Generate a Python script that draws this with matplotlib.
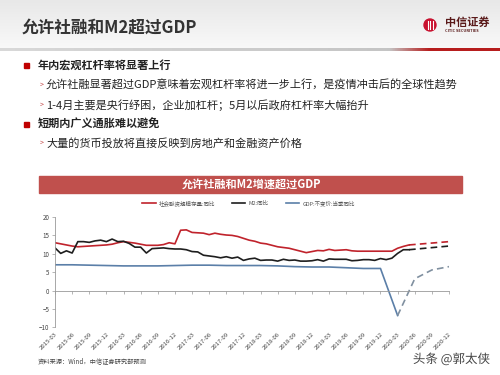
import numpy as np
import pandas as pd
import matplotlib
matplotlib.use('Agg')
import matplotlib.pyplot as plt
from matplotlib.patches import Rectangle, Circle
from matplotlib import patheffects as pe

plt.rcParams['font.family'] = ['Noto Sans CJK SC', 'DejaVu Sans']

# 月度横轴 2015-03 ~ 2020-12
months = [str(p) for p in pd.period_range('2015-03', '2020-12', freq='M')]
tick_labels = months[::3]

# 社会融资规模存量:同比 (2015-03 ~ 2020-05)
tsf_yoy = [13.0, 12.7, 12.4, 12.1, 11.9, 12.0, 12.1, 12.2, 12.3, 12.4,
           12.6, 13.0, 13.3, 13.1, 12.9, 12.6, 12.3, 12.3, 12.3, 12.5,
           13.0, 12.7, 16.4, 16.5, 15.8, 15.7, 15.6, 15.2, 15.6, 15.3,
           15.1, 15.0, 14.7, 14.2, 13.7, 13.4, 12.9, 12.7, 12.3, 11.9,
           11.7, 11.5, 11.1, 10.7, 10.3, 10.6, 10.9, 10.8, 11.2, 10.9,
           11.0, 11.1, 10.8, 10.7, 10.7, 10.7, 10.7, 10.7, 10.7, 10.7,
           11.5, 12.0, 12.4]
# M2:同比 (2015-03 ~ 2020-05)
m2_yoy = [11.6, 10.1, 10.8, 10.2, 13.3, 13.3, 13.1, 13.5, 13.7, 13.3,
          14.0, 13.3, 13.4, 12.8, 11.8, 11.8, 10.2, 11.4, 11.5, 11.6,
          11.4, 11.3, 11.3, 11.1, 10.6, 10.5, 9.6, 9.4, 9.2, 8.9,
          9.2, 8.8, 9.1, 8.2, 8.6, 8.8, 8.2, 8.3, 8.3, 8.0,
          8.5, 8.2, 8.3, 8.0, 8.0, 8.1, 8.4, 8.0, 8.6, 8.5,
          8.5, 8.5, 8.1, 8.2, 8.4, 8.4, 8.2, 8.7, 8.4, 8.8,
          10.1, 11.1, 11.1]
# 预测 (2020-05 ~ 2020-12)
fc_months = ['2020-05', '2020-12']
tsf_fc = [12.4, 13.3]
m2_fc = [11.1, 12.1]

# GDP:不变价:当季同比
gdp_q = ['2015-03', '2015-06', '2015-09', '2015-12', '2016-03', '2016-06',
         '2016-09', '2016-12', '2017-03', '2017-06', '2017-09', '2017-12',
         '2018-03', '2018-06', '2018-09', '2018-12', '2019-03', '2019-06',
         '2019-09', '2019-12', '2020-03']
gdp_yoy = [7.0, 7.0, 6.9, 6.8, 6.7, 6.7, 6.7, 6.8, 6.9, 6.9, 6.8, 6.8,
           6.8, 6.7, 6.5, 6.4, 6.4, 6.2, 6.0, 6.0, -6.8]
gdp_fc_q = ['2020-03', '2020-06', '2020-09', '2020-12']
gdp_fc = [-6.8, 3.2, 5.6, 6.5]

pos = {m: i for i, m in enumerate(months)}
x_hist = np.arange(len(tsf_yoy))
x_fc = [pos[m] for m in fc_months]
x_gdp = [pos[m] for m in gdp_q]
x_gdp_fc = [pos[m] for m in gdp_fc_q]

RED = '#c0232c'
BLACK = '#1e1e1e'
BLUE = '#5b7fa8'
GRAYB = '#8090a0'

fig = plt.figure(figsize=(5, 3.75), dpi=100)

# 背景 / 版式
bg = fig.add_axes([0, 0, 1, 1])
bg.set_xlim(0, 500)
bg.set_ylim(375, 0)
bg.axis('off')
grad = np.linspace(0.91, 0.975, 50)[:, None] * np.ones((50, 10))
bg.imshow(np.dstack([grad] * 3), extent=(0, 500, 48, 0), aspect='auto', zorder=0)
t = np.linspace(0, 1, 300)
edge = np.clip((t - 0.78) / 0.08, 0, 1)
rr = (0.85 - 0.1 * t) * (1 - edge) + 0.72 * edge
gg = (0.85 - 0.1 * t) * (1 - edge) + 0.12 * edge
bb = (0.85 - 0.1 * t) * (1 - edge) + 0.12 * edge
bg.imshow(np.dstack([rr, gg, bb]), extent=(0, 500, 51, 48),
          aspect='auto', zorder=1)

bg.text(22, 28, '允许社融和M2超过GDP', fontsize=12, fontweight='bold',
        color='#333333', va='center', ha='left')

# logo
bg.add_patch(Circle((430, 25), 6, color='#c8102e', zorder=2))
for dx in (-2.5, 0, 2.5):
    bg.plot([430 + dx, 430 + dx], [21, 29], color='white', lw=0.8, zorder=3)
bg.text(445, 22, '中信证券', fontsize=8, fontweight='bold', color='#5a1a1a',
        va='center', ha='left')
bg.text(445, 30.5, 'CITIC SECURITIES', fontsize=2.8, fontweight='bold',
        color='#5a1a1a', va='center', ha='left')

# 要点
bullets = [(65, '年内宏观杠杆率将显著上行', True),
           (85, '允许社融显著超过GDP意味着宏观杠杆率将进一步上行，是疫情冲击后的全球性趋势', False),
           (105, '1-4月主要是央行纾困，企业加杠杆；5月以后政府杠杆率大幅抬升', False),
           (124, '短期内广义通胀难以避免', True),
           (143, '大量的货币投放将直接反映到房地产和金融资产价格', False)]
for y, txt, main in bullets:
    if main:
        bg.add_patch(Rectangle((23.5, y - 2.5), 5, 5, color='#c00000'))
        bg.text(38, y, txt, fontsize=8, fontweight='bold', color='#222222',
                va='center', ha='left')
    else:
        bg.text(40, y + 0.5, '>', fontsize=5, color='#c04040', va='center', ha='left')
        bg.text(46, y, txt, fontsize=8, color='#222222', va='center', ha='left')

# 图表标题栏
bg.add_patch(Rectangle((39, 176), 423, 17, color='#c0504d', zorder=2))
bg.text(251, 184.5, '允许社融和M2增速超过GDP', fontsize=8, fontweight='bold',
        color='white', va='center', ha='center', zorder=3)

bg.text(38, 361, '资料来源：Wind，中信证券研究部预测', fontsize=4.5,
        color='#444444', va='center', ha='left')
bg.text(490, 359, '头条 @郭太侠', fontsize=9, color='#444444', va='center',
        ha='right', path_effects=[pe.withStroke(linewidth=2, foreground='white')])

# 图表
ax = fig.add_axes([55 / 500, 1 - 327.3 / 375, 394 / 500, 110.3 / 375])
ax.patch.set_alpha(0)
ax.plot(x_hist, tsf_yoy, color=RED, lw=1.2, label='社会融资规模存量:同比')
ax.plot(x_hist, m2_yoy, color=BLACK, lw=1.2, label='M2:同比')
ax.plot(x_gdp, gdp_yoy, color=BLUE, lw=1.2, label='GDP:不变价:当季同比')
ax.plot(x_fc, tsf_fc, color=RED, lw=1.2, ls=(0, (4, 2.5)))
ax.plot(x_fc, m2_fc, color=BLACK, lw=1.2, ls=(0, (4, 2.5)))
ax.plot(x_gdp_fc, gdp_fc, color=GRAYB, lw=1.2, ls=(0, (4, 2.5)))

ax.set_xlim(0, len(months) - 1)
ax.set_ylim(-10, 20)
ax.set_yticks(np.arange(-10, 21, 5))
ax.spines['top'].set_visible(False)
ax.spines['right'].set_visible(False)
ax.spines['left'].set_color('#999999')
ax.spines['left'].set_linewidth(0.6)
ax.spines['bottom'].set_position(('data', 0))
ax.spines['bottom'].set_color('#999999')
ax.spines['bottom'].set_linewidth(0.6)
ax.tick_params(axis='y', labelsize=4.5, colors='#999999', labelcolor='#444444',
               length=2, width=0.5, pad=2)
ax.set_xticks(np.arange(0, len(months), 3))
ax.tick_params(axis='x', labelbottom=False, length=2, width=0.5, colors='#999999')

sec = ax.secondary_xaxis('bottom')
sec.set_xticks(np.arange(0, len(months), 3), tick_labels)
sec.spines['bottom'].set_visible(False)
sec.tick_params(length=0, labelsize=4.3, labelcolor='#444444', pad=3)
for lbl in sec.get_xticklabels():
    lbl.set_rotation(45)
    lbl.set_ha('right')
    lbl.set_rotation_mode('anchor')

leg = ax.legend(loc='center', bbox_to_anchor=(248.5 / 500, 1 - 203 / 375),
                bbox_transform=fig.transFigure, ncol=3, frameon=False,
                fontsize=4, handlelength=2.4, handletextpad=0.6,
                columnspacing=3.0, labelcolor='#555555')

fig.savefig('out.png', dpi=100)
